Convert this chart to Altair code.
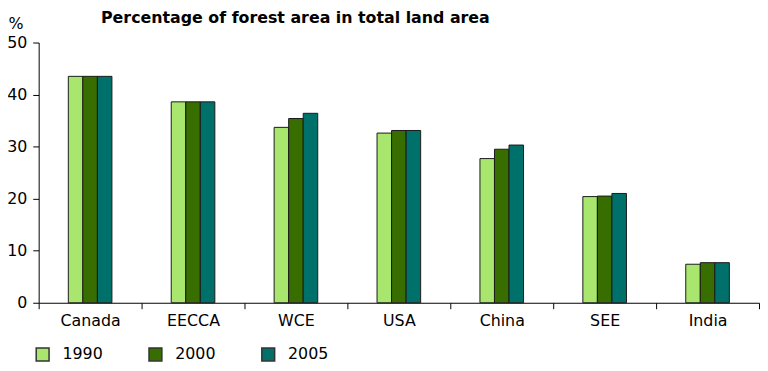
import altair as alt
import pandas as pd

regions = ["Canada", "EECCA", "WCE", "USA", "China", "SEE", "India"]
years = ["1990", "2000", "2005"]
v1990 = [43.5, 38.6, 33.7, 32.6, 27.7, 20.4, 7.4]
v2000 = [43.5, 38.6, 35.4, 33.1, 29.5, 20.5, 7.7]
v2005 = [43.5, 38.6, 36.4, 33.1, 30.3, 21.0, 7.7]
colors = ["#a8e66e", "#386e00", "#00706a"]
y_ticks = [0, 10, 20, 30, 40, 50]

rows = []
for yr, vals in zip(years, [v1990, v2000, v2005]):
    for r, v in zip(regions, vals):
        rows.append({"region": r, "year": yr, "value": v})
df = pd.DataFrame(rows)

# empty slots either side of the three bars inside each region's band
offset_domain = ["_a", "_b"] + years + ["_c", "_d"]

FONT = "DejaVu Sans"

chart = alt.Chart(df).mark_bar(stroke="#1a1a1a", strokeWidth=1).encode(
    x=alt.X("region:N", sort=regions,
            scale=alt.Scale(paddingInner=0, paddingOuter=0),
            axis=alt.Axis(title=None, labelAngle=0, tickBand="extent", tickSize=6,
                          labelPadding=4, labelFontSize=16, labelColor="#000",
                          domainColor="#000", tickColor="#000", labelFont=FONT)),
    xOffset=alt.XOffset("year:N",
                        scale=alt.Scale(domain=offset_domain, paddingInner=0, paddingOuter=0.04)),
    y=alt.Y("value:Q", scale=alt.Scale(domain=[0, 50], nice=False),
            axis=alt.Axis(title="%", titleAngle=0, titleAlign="left", titleBaseline="top",
                          titleX=-31, titleY=-27, titleFontSize=16, titleFontWeight="normal",
                          titleFont=FONT, values=y_ticks, grid=False, tickSize=6,
                          labelPadding=6, labelFontSize=16, labelFont=FONT, labelColor="#000",
                          domainColor="#000", tickColor="#000")),
    fill=alt.Fill("year:N", sort=years,
                  scale=alt.Scale(domain=years, range=colors),
                  legend=alt.Legend(title=None, orient="none", direction="horizontal",
                                    legendX=-4, legendY=307, symbolType="square",
                                    symbolSize=169, symbolStrokeColor="#333",
                                    symbolStrokeWidth=1.5, labelFontSize=16, labelFont=FONT,
                                    labelColor="#000", labelOffset=12, columnPadding=43)),
).properties(
    width=728,
    height=263,
    title=alt.TitleParams("Percentage of forest area in total land area", anchor="start",
                          frame="group", dx=63, dy=14, font=FONT, fontSize=16, fontWeight="bold",
                          color="#000"),
    autosize=alt.AutoSizeParams(type="none"),
    padding={"left": 31, "top": 33, "right": 1, "bottom": 60},
).configure_view(stroke=None)

chart.save("out.html", embed_options={"renderer": "svg", "actions": False})
